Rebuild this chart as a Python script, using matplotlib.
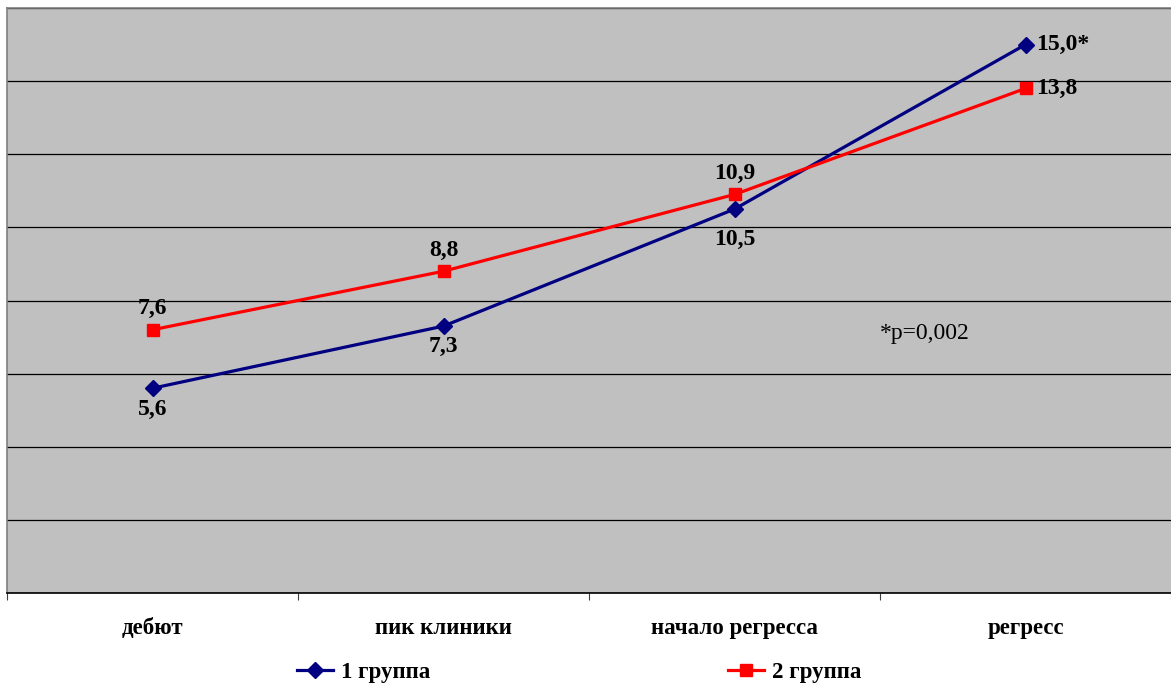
import numpy as np
import matplotlib.pyplot as plt

plt.rcParams['font.family'] = ['Liberation Serif', 'DejaVu Serif']

# stages on the x axis
categories = ['дебют', 'пик клиники', 'начало регресса', 'регресс']

# values as drawn (the first red point sits lower than its printed label)
group1 = [5.6, 7.3, 10.5, 15.0]
group2 = [7.2, 8.8, 10.9, 13.8]
group1_labels = ['5,6', '7,3', '10,5', '15,0*']
group2_labels = ['7,6', '8,8', '10,9', '13,8']
series_names = ['1 группа', '2 группа']

W, H = 1171, 686
fig = plt.figure(figsize=(W / 100, H / 100), dpi=100)
ax = fig.add_axes([7 / W, (H - 593) / H, (W - 7) / W, (593 - 8) / H])
ax.set_facecolor('#c0c0c0')

x = np.arange(len(categories)) + 0.5
l1, = ax.plot(x, group1, color='#000080', lw=2.3, marker='D', ms=8,
              label=series_names[0], zorder=3)
l2, = ax.plot(x, group2, color='#ff0000', lw=2.3, marker='s', ms=8.5,
              label=series_names[1], zorder=3)

ax.set_xlim(0, len(categories))
ax.set_ylim(0, 16)
ax.set_yticks(np.arange(0, 17, 2))
ax.yaxis.grid(True, color='black', lw=0.9)
ax.set_axisbelow(True)
ax.tick_params(axis='y', left=False, labelleft=False)

# category boundary ticks, labels centred on the categories
ax.set_xticks(np.arange(len(categories) + 1))
ax.set_xticklabels([])
ax.set_xticks(x, minor=True)
ax.set_xticklabels(categories, minor=True, fontsize=16.5, fontweight='bold')
ax.tick_params(axis='x', which='major', direction='out', length=5, color='#404040')
ax.tick_params(axis='x', which='minor', length=0, pad=18)

ax.spines['bottom'].set_color('black')
ax.spines['left'].set_color('#808080')
ax.spines['top'].set_color('#808080')
ax.spines['right'].set_visible(False)
for s in ax.spines.values():
    s.set_linewidth(1.2)

lab_kw = dict(textcoords='offset points', fontsize=17, fontweight='bold',
              color='black', ha='center', va='center', annotation_clip=False)
for i, (xi, v, t) in enumerate(zip(x, group1, group1_labels)):
    if i == len(x) - 1:
        ax.annotate(t, (xi, v), xytext=(8, 0), **dict(lab_kw, ha='left'))
    else:
        dy = -22 if i == 2 else -15
        ax.annotate(t, (xi, v), xytext=(0, dy), **lab_kw)
for i, (xi, v, t) in enumerate(zip(x, group2, group2_labels)):
    if i == len(x) - 1:
        ax.annotate(t, (xi, v), xytext=(8, 0), **dict(lab_kw, ha='left'))
    else:
        ax.annotate(t, (xi, v), xytext=(0, 15), **lab_kw)

ax.text(3.0, 7.1, '*p=0,002', fontsize=17, ha='left', va='center')

fig.legend(handles=[l1, l2], loc='center', bbox_to_anchor=(579 / W, (H - 672) / H),
           ncol=2, frameon=False, prop={'size': 16.5, 'weight': 'bold'},
           handlelength=1.57, handletextpad=0.35, columnspacing=13.0)

fig.savefig('out.png', dpi=100)
